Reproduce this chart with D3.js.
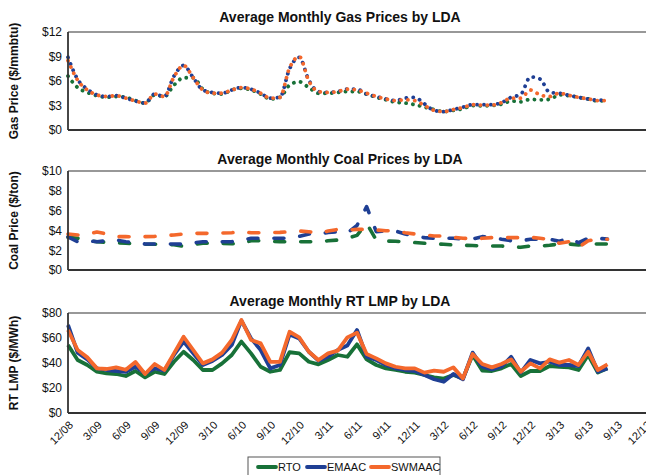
<!DOCTYPE html>
<html><head><meta charset="utf-8">
<script src="https://cdn.jsdelivr.net/npm/d3@7"></script>
<style>
body{margin:0;background:#fff}
text{font-family:"Liberation Sans Narrow","Arial Narrow","Liberation Sans",Arial,sans-serif;fill:#111}
</style></head><body>
<svg id="c" width="646" height="475"></svg>
<script>
const categories = ["12/08","1/09","2/09","3/09","4/09","5/09","6/09","7/09","8/09","9/09","10/09","11/09","12/09",
"1/10","2/10","3/10","4/10","5/10","6/10","7/10","8/10","9/10","10/10","11/10","12/10",
"1/11","2/11","3/11","4/11","5/11","6/11","7/11","8/11","9/11","10/11","11/11","12/11",
"1/12","2/12","3/12","4/12","5/12","6/12","7/12","8/12","9/12","10/12","11/12","12/12",
"1/13","2/13","3/13","4/13","5/13","6/13","7/13","8/13","9/13","10/13","11/13","12/13"];
const tickLabels = ["12/08","3/09","6/09","9/09","12/09","3/10","6/10","9/10","12/10","3/11","6/11","9/11","12/11","3/12","6/12","9/12","12/12","3/13","6/13","9/13","12/13"];
const seriesNames = ["RTO","EMAAC","SWMAAC"];

const gasRTO = [6.6,5.2,4.6,4.2,4.0,4.1,4.0,3.6,3.3,4.3,4.1,5.5,6.4,6.4,5.0,4.5,4.4,4.9,5.1,4.9,4.4,3.8,4.0,5.5,5.9,5.2,4.5,
4.5,4.6,4.7,4.7,4.4,4.0,3.7,3.4,3.3,3.1,2.8,2.5,2.25,2.4,2.6,3.0,2.95,3.0,3.15,3.55,3.45,3.75,3.7,3.75,4.3,4.2,4.0,3.8,3.55,3.65];
const gasEMAAC = [8.9,6.2,5.0,4.3,4.1,4.2,3.9,3.55,3.3,4.4,4.1,6.6,7.9,6.4,4.9,4.6,4.5,4.9,5.2,5.0,4.5,3.9,4.0,7.5,8.9,6.1,4.7,
4.6,4.7,5.0,5.0,4.4,4.1,3.8,3.6,3.9,4.0,3.2,2.4,2.25,2.5,2.8,3.1,3.1,3.1,3.35,4.0,4.35,6.5,6.25,4.6,4.5,4.25,4.0,3.8,3.65,3.65];
const gasSWMAAC = [8.5,6.1,4.9,4.3,4.1,4.2,3.9,3.55,3.3,4.4,4.1,6.5,7.9,6.4,4.9,4.5,4.5,4.9,5.2,5.0,4.5,3.9,4.0,7.6,9.0,6.0,4.7,
4.6,4.7,5.0,4.9,4.5,4.1,3.8,3.6,3.7,3.6,3.0,2.4,2.25,2.5,2.75,3.1,3.05,3.05,3.35,3.9,3.9,4.9,4.3,4.1,4.5,4.25,4.0,3.8,3.6,3.6];

const coalRTO = [3.3,3.2,3.0,2.86,2.8,2.75,2.7,2.65,2.6,2.6,2.58,2.55,2.4,2.6,2.7,2.7,2.68,2.65,2.65,2.96,
2.96,2.9,2.86,2.86,2.86,2.86,2.86,2.95,3.03,3.2,3.5,4.7,3.03,2.93,2.9,2.86,2.77,2.7,2.63,2.6,
2.53,2.5,2.47,2.42,2.42,2.42,2.36,2.29,2.42,2.42,2.5,2.63,2.63,2.53,2.63,2.63,2.63];
const coalEMAAC = [3.35,2.86,2.95,2.86,2.95,3.03,2.86,2.75,2.63,2.63,2.63,2.63,2.6,2.75,2.86,2.86,2.86,2.86,3.0,3.2,
3.2,3.2,3.2,3.2,3.4,3.64,3.6,3.8,3.87,3.75,4.5,6.4,3.87,3.94,3.94,3.64,3.43,3.27,3.2,3.2,
3.2,3.13,3.13,3.37,3.3,3.1,2.96,2.96,3.1,3.1,3.1,2.9,3.2,2.77,3.2,3.2,3.13];
const coalSWMAAC = [3.64,3.54,3.6,3.84,3.64,3.37,3.37,3.35,3.37,3.4,3.47,3.54,3.64,3.7,3.7,3.7,3.74,3.77,3.87,3.77,
3.77,3.77,3.8,3.87,3.94,3.87,3.7,3.94,4.1,4.04,4.1,4.1,4.04,3.97,3.94,3.77,3.64,3.54,3.43,3.43,
3.3,3.2,3.17,3.2,3.27,3.27,3.27,3.27,3.3,3.2,3.1,2.7,2.86,2.29,2.96,3.13,3.1];

const lmpRTO = [54.4,42.4,38.4,33,31.7,31.2,29.6,33.6,28.5,33,31.2,41,49,42.4,34.4,34.4,39.7,46.4,57.1,47.7,
37,33,34.4,48.6,47.7,41,38.9,42.4,46.4,45,
54.9,42.9,38.4,35.7,34.4,33,32.3,30.4,28.5,27.5,30.4,27.7,46.4,33.9,33.6,35.7,39.2,29.6,33.6,33.6,
37.6,37,36.5,34.4,46.4,32.3,35.7];
const lmpEMAAC = [70.4,48.3,42.9,35.7,34.4,33.6,33,37,31.7,35.7,33.9,46.4,57.1,47.7,38.4,41.6,46.4,54.4,73.9,59.7,
50.4,35.7,38.4,62.9,59.7,49,41.9,45,50.4,54,
66.4,45,42.4,38.4,35.7,34.4,33.6,30.4,27,25,31.2,27,48.3,37,34.9,37,45,32.3,42.4,39.7,
41,38.4,38.4,37.6,51.7,33,35.7];
const lmpSWMAAC = [66.4,50.4,44.5,35.7,35.2,36.5,34.6,40.8,31.2,39.2,34.4,47.7,61,50.4,39.7,42.9,48.3,58.4,74.4,58.4,
55.7,40.9,40.9,65,60.5,49,42.4,47.7,49.9,60.5,
64.3,47.2,43.7,39.7,37,35.7,35.7,32.3,33.9,33,36.5,27.7,47.2,39.2,36.5,39.2,42.9,33,39.7,35.7,
42.9,40.3,42.4,38.4,49,34.4,38.9];

const gasTicks = [0,3,6,9,12];
const coalTicks = [0,2,4,6,8,10];
const lmpTicks = [0,20,40,60,80];

const colors = {RTO:"#187138", EMAAC:"#1f3f94", SWMAAC:"#f4682c"};

const svg = d3.select("#c");
const left = 68, right = 646;
const x = d3.scalePoint().domain(categories).range([left, right]);

const panels = [
  {title:"Average Monthly Gas Prices by LDA", ylab:"Gas Price ($/mmbtu)", top:32, bottom:130, ticks:gasTicks,
   series:[gasRTO,gasEMAAC,gasSWMAAC], style:"dot", titleY:22},
  {title:"Average Monthly Coal Prices by LDA", ylab:"Coal Price ($/ton)", top:171, bottom:270, ticks:coalTicks,
   series:[coalRTO,coalEMAAC,coalSWMAAC], style:"dash", titleY:164},
  {title:"Average Monthly RT LMP by LDA", ylab:"RT LMP ($/MWh)", top:313, bottom:413, ticks:lmpTicks,
   series:[lmpRTO,lmpEMAAC,lmpSWMAAC], style:"solid", titleY:306}
];

panels.forEach(p => {
  const y = d3.scaleLinear().domain([0, d3.max(p.ticks)]).range([p.bottom, p.top]);
  const g = svg.append("g");
  g.append("text").attr("x", 340).attr("y", p.titleY).attr("text-anchor","middle")
    .style("font-size","14px").style("font-weight","bold").text(p.title);
  g.append("text").attr("transform",`translate(18,${(p.top+p.bottom)/2}) rotate(-90)`)
    .attr("text-anchor","middle").style("font-size","12px").style("font-weight","bold").text(p.ylab);
  const ax = g.append("g").attr("transform",`translate(${left},0)`)
    .call(d3.axisLeft(y).tickValues(p.ticks).tickSize(0).tickPadding(6).tickFormat(d => "$" + d));
  ax.select(".domain").remove();
  ax.selectAll("text").style("font-size","12px").attr("fill","#111");

  const line = d3.line()
    .x((d,i) => x(categories[i]))
    .y(d => y(d))
    .curve(p.style === "dot" ? d3.curveMonotoneX : d3.curveLinear);
  p.series.forEach((s, k) => {
    const path = g.append("path").datum(s).attr("d", line)
      .attr("fill","none").attr("stroke", colors[seriesNames[k]])
      .attr("stroke-linejoin","round");
    if (p.style === "dot") path.attr("stroke-width",3.8).attr("stroke-linecap","round").attr("stroke-dasharray","0.1 6.8");
    else if (p.style === "dash") path.attr("stroke-width",3.6).attr("stroke-linecap","round").attr("stroke-dasharray","10 16");
    else path.attr("stroke-width",3.8);
  });

  g.append("line").attr("x1",left).attr("x2",right).attr("y1",p.top).attr("y2",p.top).attr("stroke","#333").attr("stroke-width",1.2);
  g.append("line").attr("x1",left).attr("x2",right).attr("y1",p.bottom).attr("y2",p.bottom).attr("stroke","#333").attr("stroke-width",1.8);
  g.append("line").attr("x1",left).attr("x2",left).attr("y1",p.top).attr("y2",p.bottom).attr("stroke","#333").attr("stroke-width",1.8);
});

// x tick labels
const tickG = svg.append("g");
tickG.selectAll("text").data(tickLabels).enter().append("text")
  .attr("transform", d => `translate(${x(d)+3},423) rotate(-45)`)
  .attr("text-anchor","end").attr("dy","0.35em")
  .style("font-size","11px").text(d => d);

// legend
const lg = svg.append("g");
lg.append("rect").attr("x",248).attr("y",457).attr("width",192).attr("height",24)
  .attr("fill","#fff").attr("stroke","#555").attr("stroke-width",1);
const legPos = [{lx:258, tx:278},{lx:307, tx:327},{lx:371, tx:391}];
seriesNames.forEach((n,k) => {
  lg.append("line").attr("x1",legPos[k].lx).attr("x2",legPos[k].lx+18).attr("y1",467).attr("y2",467)
    .attr("stroke",colors[n]).attr("stroke-width",3.8).attr("stroke-linecap","round");
  lg.append("text").attr("x",legPos[k].tx).attr("y",467).attr("dy","0.35em")
    .style("font-size","11px").text(n);
});
</script>
</body></html>
